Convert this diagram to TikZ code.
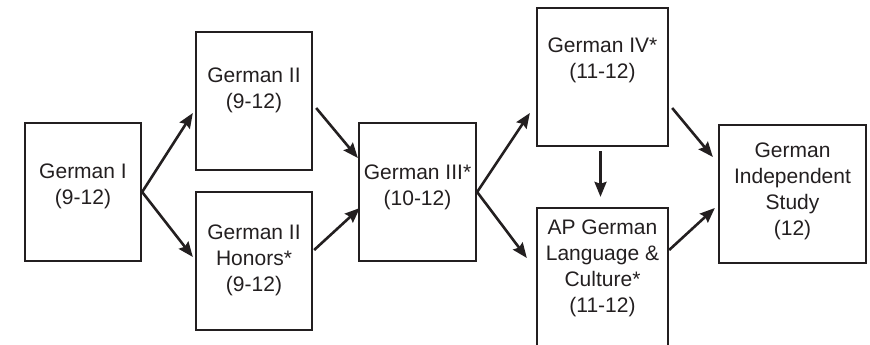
\documentclass[tikz,border=0pt]{standalone}
\usepackage{fontspec}
\setmainfont{Liberation Sans}
\usetikzlibrary{arrows.meta,calc}
\definecolor{ink}{HTML}{231F20}

\begin{document}
\begin{tikzpicture}[x=1pt, y=-1pt,
    box/.style={draw=ink, line width=2.3pt, minimum width=116, minimum height=138, inner sep=0pt},
    txt/.style={align=center, text=ink, inner sep=0pt, font=\fontsize{21}{26}\selectfont},
    link/.style={draw=ink, line width=2.6pt, -{Stealth[length=15pt, width=12pt, inset=2pt]}}]
    \useasboundingbox (0,0) rectangle (870,345);

    % Nodes
    \node[box] (GermanI) at (83,192) {};
    \node[box] (GermanII) at (254,101) {};
    \node[box] (GermanIIH) at (254,261) {};
    \node[box, minimum width=117] (GermanIII) at (417.5,192) {};
    \node[box, minimum width=131] (GermanIV) at (602.5,77) {};
    \node[box, minimum width=131, minimum height=140] (APGerman) at (602.5,278) {};
    \node[box, minimum width=147] (IndStudy) at (792.5,194) {};

    % Labels
    \node[txt] (GermanIText) at (83,186) {German I\\(9-12)};
    \node[txt] (GermanIIText) at (254,90) {German II\\(9-12)};
    \node[txt] (GermanIIHText) at (254,260) {German II\\Honors*\\(9-12)};
    \node[txt] (GermanIIIText) at (417.5,187) {German III*\\(10-12)};
    \node[txt] (GermanIVText) at (602.5,60) {German IV*\\(11-12)};
    \node[txt] (APGermanText) at (602.5,268) {AP German\\Language \&\\Culture*\\(11-12)};
    \node[txt] (IndStudyText) at (792.5,191) {German\\Independent\\Study\\(12)};

    % Edges
    \draw[link] (GermanI.east) -- ($(GermanII.west)+(-2,12)$);
    \draw[link] (GermanI.east) -- ($(GermanIIH.west)+(-2,-4)$);
    \draw[link] ($(GermanII.east)+(3,7)$) -- ($(GermanIII.west)+(0,-34)$);
    \draw[link] ($(GermanIIH.east)+(1,-11)$) -- ($(GermanIII.west)+(2,16)$);
    \draw[link] (GermanIII.east) -- ($(GermanIV.west)+(-6,36)$);
    \draw[link] (GermanIII.east) -- ($(APGerman.west)+(-9,-20)$);
    \draw[link] ($(GermanIV.east)+(3,31)$) -- ($(IndStudy.west)+(-5,-37)$);
    \draw[link] ($(APGerman.east)+(0,-28)$) -- ($(IndStudy.west)+(-3,14)$);
    \draw[link] ($(GermanIV.south)+(-2,4)$) -- ($(APGerman.north)+(-2,-10)$);
\end{tikzpicture}
\end{document}
